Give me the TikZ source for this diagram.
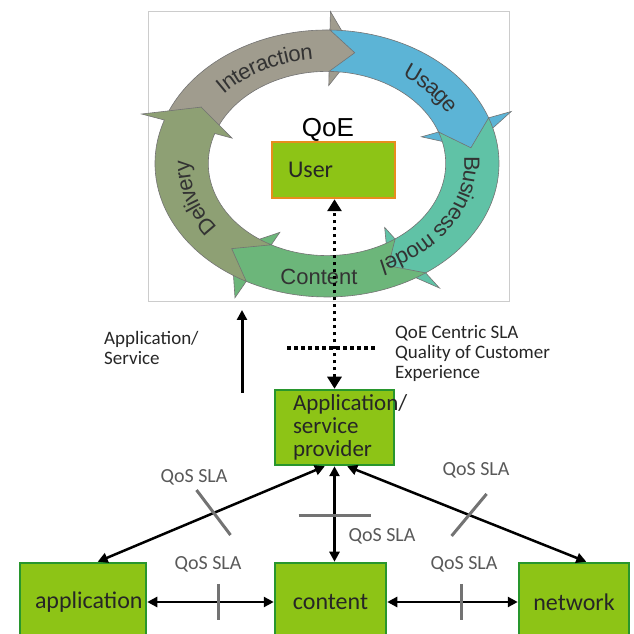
\documentclass[tikz,border=0pt]{standalone}
\usepackage{fontspec}
\setmainfont{Carlito}
\newfontfamily\ringfont{Liberation Sans}
\usetikzlibrary{arrows.meta,decorations.text}
\definecolor{boxgreen}{RGB}{141,196,22}
\definecolor{boxedge}{RGB}{40,150,45}
\definecolor{useredge}{RGB}{232,140,30}
\definecolor{ringI}{RGB}{160,156,142}
\definecolor{ringU}{RGB}{92,180,214}
\definecolor{ringB}{RGB}{96,194,166}
\definecolor{ringC}{RGB}{108,182,122}
\definecolor{ringD}{RGB}{142,160,116}

\begin{document}
\begin{tikzpicture}[x=1pt, y=1pt, >={Triangle[length=10pt,width=10pt]},
  every node/.style={inner sep=0pt},
  unit/.style={draw=boxedge, line width=2.5pt, fill=boxgreen, text=black!85, font=\fontsize{24}{23}\selectfont, minimum height=78pt},
  note/.style={font=\fontsize{19}{20}\selectfont, text=black!85, align=left},
  sla/.style={font=\fontsize{20}{20}\selectfont, text=black!65},
  link/.style={line width=2.5pt},
  tick/.style={line width=3pt, black!55},
  dotline/.style={line width=3.5pt, dash pattern=on 3.5pt off 3.5pt},
  ringtext/.style={decorate, decoration={text along path, text color=black!80, text align=center, raise=-8pt}}]
\useasboundingbox (0,0) rectangle (634,634);
\clip (0,0) rectangle (634,634);
\draw[black!20, line width=1pt] (148,332) rectangle (509,622);
% cycle of QoE factors
\begin{scope}[shift={(327,470.5)}]
\foreach \t/\b/\p/\n/\c in {161/89/79/150/ringI, 89/20/8/79/ringU, 20/-55/-65/8/ringB, -55/-118/-131/-65/ringC, 242/161/150/229/ringD}
  {\filldraw[fill=\c, draw=black!55, line width=0.6pt] (\t:172 and 133.5) arc[start angle=\t, end angle=\b, x radius=172, y radius=133.5]
     -- (\b:196 and 152) -- (\p:145.3 and 112.8) -- (\b:100.5 and 78) -- (\b:118.7 and 92.1)
     arc[start angle=\b, end angle=\t, x radius=118.7, y radius=92.1] -- (\n:145.3 and 112.8) -- cycle;}
\path[ringtext, decoration={text={|\ringfont\fontsize{22}{22}\selectfont|Interaction}}] (152:145.3 and 112.8) arc[start angle=152, end angle=84, x radius=145.3, y radius=112.8];
\path[ringtext, decoration={text={|\ringfont\fontsize{22}{22}\selectfont|Usage}}] (75:145.3 and 112.8) arc[start angle=75, end angle=7, x radius=145.3, y radius=112.8];
\path[ringtext, decoration={text={|\ringfont\fontsize{22}{22}\selectfont|Business model}}] (16:145.3 and 112.8) arc[start angle=16, end angle=-78, x radius=145.3, y radius=112.8];
\path[ringtext, decoration={text={|\ringfont\fontsize{22}{22}\selectfont|Delivery}}] (233:145.3 and 112.8) arc[start angle=233, end angle=161, x radius=145.3, y radius=112.8];
\end{scope}
\node[font=\ringfont\fontsize{22}{22}\selectfont, text=black!80] (lcontent) at (319,357) {Content};
\node[font=\ringfont\fontsize{26}{26}\selectfont] (qoe) at (328,504) {QoE};
\node[unit, draw=useredge, minimum height=56pt, text width=91pt, inner xsep=16pt, align=left] (user) at (333.5,464) {User};
% provider and the three parties
\node[unit, minimum height=75pt, text width=83pt, inner xsep=18pt, align=left, font=\fontsize{23}{23}\selectfont] (prov) at (334.5,206.5) {Application/\\service\\provider};
\node[unit, text width=96pt, inner xsep=15pt, align=left] (app) at (83,32) {application};
\node[unit, minimum width=111pt] (cont) at (330.5,32) {content};
\node[unit, minimum width=110pt] (net) at (574,32) {network};
\draw[dotline, {Triangle[length=12pt,width=14pt]}-{Triangle[length=12pt,width=14pt]}] (prov.north) -- (prov.north |- user.south);
\coordinate (slaL) at (287,286);
\coordinate (slaR) at (377,286);
\draw[dotline] (slaL) -- (slaR);
\coordinate (upS) at (242,241);
\coordinate (upE) at (242,324);
\draw[->, line width=3pt] (upS) -- (upE);
\node[note, anchor=west] (appsrv) at (104,286) {Application/\\Service};
\node[note, anchor=west] (qoesla) at (395,281) {QoE Centric SLA\\Quality of Customer\\Experience};
\draw[<->, link] (prov.-104) -- coordinate[pos=0.49] (tL) (app.70);
\draw[<->, link] (prov.-72) -- coordinate[pos=0.51] (tR) (net.73);
\draw[<->, link] (prov.south) -- coordinate[pos=0.52] (tM) (prov.south |- cont.north);
\draw[<->, link] (app.east) -- coordinate[pos=0.56] (tA) (cont.west);
\draw[<->, link] (cont.east) -- coordinate[pos=0.57] (tB) (net.west);
\draw[tick] (tL) ++(-17,23) -- ++(34,-45);
\draw[tick] (tR) ++(17.5,21) -- ++(-35,-42);
\draw[tick] (tM) ++(-36,0) -- ++(72,0);
\draw[tick] (tA) ++(0,18) -- ++(0,-36);
\draw[tick] (tB) ++(0,18) -- ++(0,-36);
\node[sla] (slaA) at (194,157) {QoS SLA};
\node[sla] (slaM) at (382,98) {QoS SLA};
\node[sla] (slaN) at (476,164) {QoS SLA};
\node[sla] (slaAC) at (208,70) {QoS SLA};
\node[sla] (slaCN) at (464,70) {QoS SLA};
\end{tikzpicture}
\end{document}
